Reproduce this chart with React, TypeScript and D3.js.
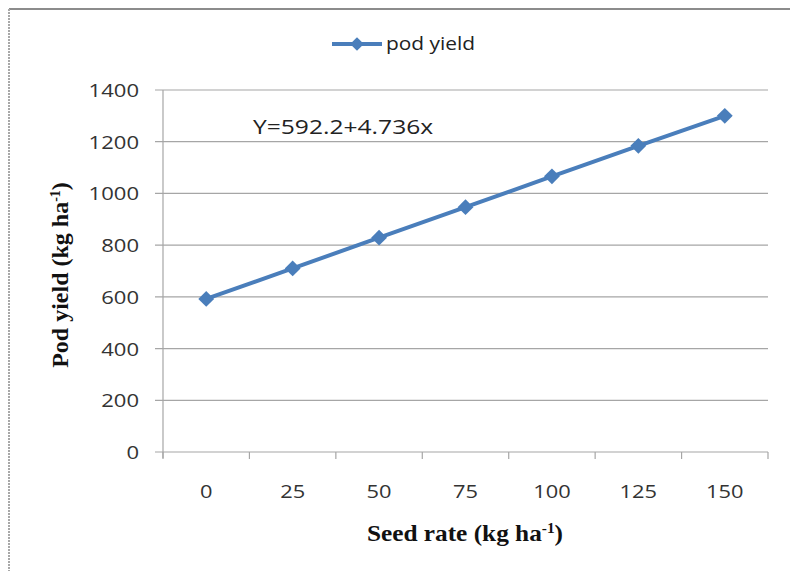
import React from "react";
import * as d3 from "d3";

const categories = ["0", "25", "50", "75", "100", "125", "150"];
const podYield = [592, 710, 829, 947, 1066, 1184, 1300];
const yTicks = [0, 200, 400, 600, 800, 1000, 1200, 1400];
const seriesName = "pod yield";
const equation = "Y=592.2+4.736x";

const SANS = "Open Sans, Liberation Sans, sans-serif";
const SERIF = "Liberation Serif, Times New Roman, serif";

function SText(props: { x: number; y: number; sx: number; anchor?: string; size: number; fill?: string; family?: string; weight?: string; children: React.ReactNode }) {
  const { x, y, sx, anchor = "start", size, fill = "#333", family = SANS, weight = "normal", children } = props;
  return (
    <text transform={`translate(${x},${y}) scale(${sx},1)`} textAnchor={anchor} fontFamily={family} fontSize={size} fill={fill} fontWeight={weight}>
      {children}
    </text>
  );
}

export default function App() {
  const W = 790, H = 571;
  const left = 163, right = 768, top = 90, bottom = 452;
  const x = d3.scaleBand<string>().domain(categories).range([left, right]);
  const y = d3.scaleLinear().domain([0, 1400]).range([bottom, top]);
  const cx = (c: string) => (x(c) as number) + x.bandwidth() / 2;
  const line = d3.line<number>().x((_, i) => cx(categories[i])).y((v) => y(v));
  const diamond = d3.symbol().type(d3.symbolDiamond2).size(160)();
  const legendDiamond = d3.symbol().type(d3.symbolDiamond2).size(120)();
  const blue = "#4a7ebb";
  const xTickPos = [...categories.map((c) => x(c) as number), right];
  return (
    <svg width={W} height={H} style={{ position: "absolute", left: 0, top: 0, background: "#fff" }}>
      <rect x={0} y={0} width={W} height={H} fill="#fff" />
      <line x1={9} y1={9} x2={W} y2={9} stroke="#8c8c8c" strokeWidth={2} />
      <line x1={9} y1={9} x2={9} y2={H} stroke="#a8a8a8" strokeWidth={2} strokeDasharray="2,1" />
      {/* legend */}
      <line x1={332} y1={44} x2={382} y2={44} stroke={blue} strokeWidth={4} />
      <path d={legendDiamond} transform="translate(357,44)" fill={blue} />
      <SText x={386} y={50} sx={1.1} size={19} fill="#222">{seriesName}</SText>
      {/* gridlines */}
      {yTicks.map((t) => (
        <line key={t} x1={155} x2={right} y1={y(t)} y2={y(t)} stroke="#a6a6a6" strokeWidth={1.2} />
      ))}
      {/* y axis */}
      <line x1={left} x2={left} y1={top} y2={bottom + 6} stroke="#a6a6a6" strokeWidth={1.2} />
      {yTicks.map((t) => (
        <SText key={t} x={139} y={y(t) + 7} sx={1.16} anchor="end" size={19}>{t}</SText>
      ))}
      {/* x axis ticks */}
      {xTickPos.map((p, i) => (
        <line key={i} x1={p} x2={p} y1={bottom} y2={bottom + 7} stroke="#a6a6a6" strokeWidth={1.2} />
      ))}
      {categories.map((c) => (
        <SText key={c} x={cx(c)} y={498} sx={1.15} anchor="middle" size={19}>{c}</SText>
      ))}
      {/* equation */}
      <SText x={253} y={134} sx={1.23} size={20} fill="#222">{equation}</SText>
      {/* series */}
      <path d={line(podYield) || ""} fill="none" stroke={blue} strokeWidth={4} />
      {podYield.map((v, i) => (
        <path key={i} d={diamond} transform={`translate(${cx(categories[i])},${y(v)})`} fill={blue} />
      ))}
      {/* axis titles */}
      <SText x={465} y={541} sx={1.1} anchor="middle" size={23} family={SERIF} weight="bold" fill="#111">
        Seed rate (kg ha<tspan dy={-8} fontSize={14}>-1</tspan><tspan dy={8}>)</tspan>
      </SText>
      <text transform="translate(68,275) rotate(-90)" textAnchor="middle" fontFamily={SERIF} fontWeight="bold" fontSize={24} fill="#111">
        Pod yield (kg ha<tspan dy={-8} fontSize={14}>-1</tspan><tspan dy={8}>)</tspan>
      </text>
    </svg>
  );
}
